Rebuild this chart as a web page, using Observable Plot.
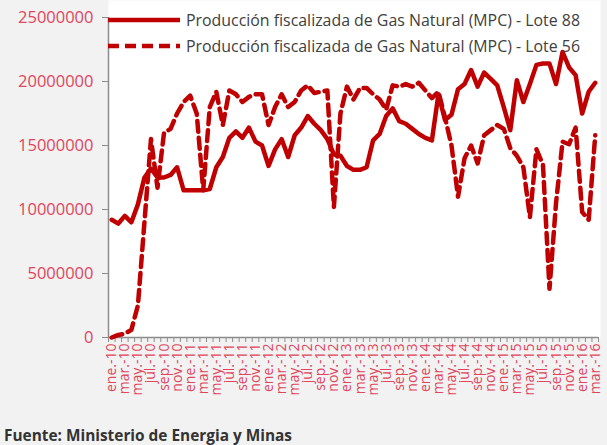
<!DOCTYPE html>
<html>
<head>
<meta charset="utf-8">
<script src="https://cdn.jsdelivr.net/npm/d3@7"></script>
<script src="https://cdn.jsdelivr.net/npm/@observablehq/plot@0.6"></script>
<style>
  html, body { margin: 0; padding: 0; background: #f2f2f2; }
  #wrap { position: relative; width: 607px; height: 445px; font-family: "Open Sans", sans-serif; }
  #legend { position: absolute; left: 108px; top: 7px; }
  .item { display: flex; align-items: center; height: 26px; }
  .item span { font-size: 15.9px; color: #404040; margin-left: 6px; white-space: nowrap; }
  #caption { position: absolute; left: 4px; top: 425px; font-size: 15.4px; font-weight: bold; color: #333; white-space: nowrap; }
</style>
</head>
<body>
<div id="wrap">
  <div id="chart"></div>
  <div id="legend"></div>
  <div id="caption">Fuente: Ministerio de Energia y Minas</div>
</div>
<script>
const categories = [
  "ene.-10","feb.-10","mar.-10","abr.-10","may.-10","jun.-10","jul.-10","ago.-10","sep.-10","oct.-10","nov.-10","dic.-10",
  "ene.-11","feb.-11","mar.-11","abr.-11","may.-11","jun.-11","jul.-11","ago.-11","sep.-11","oct.-11","nov.-11","dic.-11",
  "ene.-12","feb.-12","mar.-12","abr.-12","may.-12","jun.-12","jul.-12","ago.-12","sep.-12","oct.-12","nov.-12","dic.-12",
  "ene.-13","feb.-13","mar.-13","abr.-13","may.-13","jun.-13","jul.-13","ago.-13","sep.-13","oct.-13","nov.-13","dic.-13",
  "ene.-14","feb.-14","mar.-14","abr.-14","may.-14","jun.-14","jul.-14","ago.-14","sep.-14","oct.-14","nov.-14","dic.-14",
  "ene.-15","feb.-15","mar.-15","abr.-15","may.-15","jun.-15","jul.-15","ago.-15","sep.-15","oct.-15","nov.-15","dic.-15",
  "ene.-16","feb.-16","mar.-16"
];

const lote88 = [
  9200000, 8900000, 9500000, 9000000, 10400000, 12500000, 13200000, 12500000, 12500000, 12700000,
  13300000, 11500000, 11500000, 11500000, 11500000, 11600000, 13300000, 14100000, 15600000, 16100000,
  15600000, 16400000, 15300000, 15000000, 13400000, 14700000, 15500000, 14100000, 15800000, 16400000,
  17300000, 16700000, 16200000, 15500000, 14300000, 14200000, 13400000, 13100000, 13100000, 13300000,
  15400000, 15900000, 17300000, 17900000, 16900000, 16700000, 16300000, 15900000, 15600000, 15400000,
  19000000, 17000000, 17400000, 19400000, 19800000, 20900000, 19600000, 20700000, 20200000, 19700000,
  18000000, 16200000, 20100000, 18400000, 19800000, 21300000, 21400000, 21400000, 19800000, 22300000,
  21100000, 20500000, 17500000, 19200000, 19900000
];

const lote56 = [
  0, 200000, 300000, 600000, 2500000, 9000000, 15500000, 11700000, 16000000, 16300000,
  17500000, 18400000, 18900000, 17500000, 11500000, 18000000, 19200000, 16600000, 19300000, 19000000,
  18400000, 18800000, 19000000, 19000000, 16600000, 18000000, 19000000, 18000000, 18400000, 19300000,
  19700000, 19100000, 19200000, 19300000, 10200000, 17500000, 19600000, 18600000, 19500000, 19500000,
  19000000, 18600000, 17800000, 19700000, 19600000, 19800000, 19600000, 19900000, 19300000, 18700000,
  19200000, 17200000, 15000000, 11000000, 14000000, 15000000, 13600000, 15800000, 16200000, 16600000,
  16300000, 14800000, 14200000, 13300000, 9400000, 14700000, 13500000, 3800000, 10500000, 15300000,
  15100000, 16400000, 9800000, 9200000, 15800000
];

const yTicks = [0, 5000000, 10000000, 15000000, 20000000, 25000000];
const seriesNames = [
  "Producción fiscalizada de Gas Natural (MPC) - Lote 88",
  "Producción fiscalizada de Gas Natural (MPC) - Lote 56"
];

const lineColor = "#c00000";
const labelColor = "#e0455c";
const axisColor = "#8c8c8c";

const table = categories.map((c, i) => ({i, cat: c, v88: lote88[i], v56: lote56[i]}));
const labelIdx = categories.map((c, i) => i).filter(i => i % 2 === 0);
const boundaries = d3.range(-0.5, categories.length, 1);

const chart = Plot.plot({
  width: 607,
  height: 415,
  marginLeft: 108,
  marginRight: 9,
  marginTop: 17,
  marginBottom: 78,
  style: {background: "transparent", fontFamily: "'Open Sans', sans-serif", overflow: "visible"},
  x: {type: "linear", domain: [-0.5, categories.length - 0.5], axis: null},
  y: {domain: [0, 25000000], axis: null},
  marks: [
    Plot.frame({fill: "white", stroke: null, insetTop: -17, insetRight: -2}),
    Plot.axisY({ticks: yTicks, tickSize: 6, tickPadding: 9, tickFormat: d => String(d), label: null,
      stroke: axisColor, fill: labelColor, fontSize: 16.5}),
    Plot.axisX({ticks: boundaries, tickSize: 5, tickFormat: () => "", label: null, stroke: axisColor}),
    Plot.axisX({ticks: labelIdx, tickSize: 0, tickPadding: 6, tickRotate: -90, label: null,
      tickFormat: i => categories[i], fill: labelColor, fontSize: 14}),
    Plot.ruleY([0], {stroke: axisColor, strokeWidth: 1.5}),
    Plot.ruleX([-0.5], {stroke: axisColor, strokeWidth: 1.5}),
    Plot.lineY(table, {x: "i", y: "v56", stroke: lineColor, strokeWidth: 4.5, strokeDasharray: "11,6"}),
    Plot.lineY(table, {x: "i", y: "v88", stroke: lineColor, strokeWidth: 4.5})
  ]
});
document.getElementById("chart").appendChild(chart);

const legend = document.getElementById("legend");
const dashes = ["none", "11,6"];
seriesNames.forEach((name, k) => {
  const item = document.createElement("div");
  item.className = "item";
  item.innerHTML = `<svg width="72" height="8"><line x1="0" y1="4" x2="72" y2="4" stroke="${lineColor}" stroke-width="4.5" stroke-dasharray="${dashes[k]}"/></svg><span>${name}</span>`;
  legend.appendChild(item);
});
</script>
</body>
</html>
